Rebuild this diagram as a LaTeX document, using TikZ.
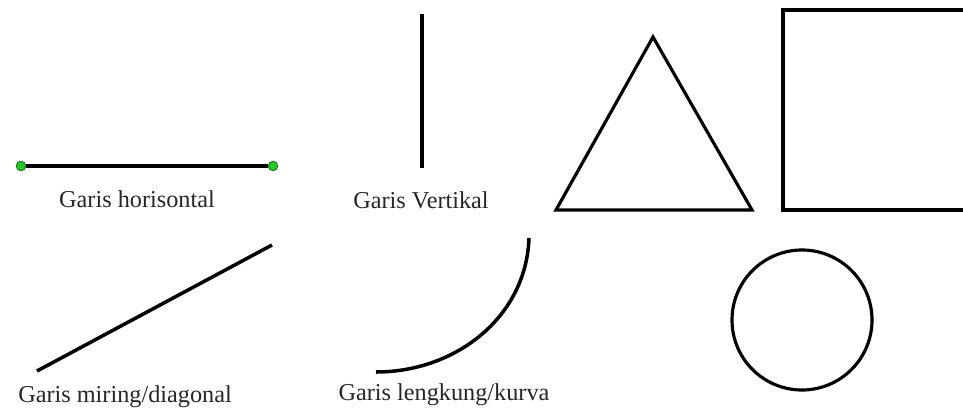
\documentclass[tikz,border=0pt]{standalone}
\usepackage{fontspec}
\setmainfont{Liberation Serif}
\definecolor{hijau}{RGB}{40,200,40}
\definecolor{hijaugelap}{RGB}{20,120,20}
\begin{document}
\begin{tikzpicture}[garis/.style={line width=2pt},
    bangun/.style={line width=1.8pt, line join=miter},
    titik/.style={circle, fill=hijau, draw=hijaugelap, line width=0.5pt, minimum size=0.19cm, inner sep=0pt},
    ket/.style={text=black!85, font=\fontsize{13.8}{16}\selectfont, inner sep=0pt}]
    \useasboundingbox (0,0) rectangle (19.26,8.28);
    \clip (0,0) rectangle (19.26,8.28);

    % Garis horisontal
    \node[titik] (h1) at (0.42,4.96) {};
    \node[titik] (h2) at (5.46,4.96) {};
    \node[ket] (kh) at (2.74,4.3) {Garis horisontal};

    % Garis vertikal
    \coordinate (v1) at (8.44,8.0);
    \coordinate (v2) at (8.44,4.92);
    \node[ket] (kv) at (8.42,4.28) {Garis Vertikal};

    % Garis miring
    \coordinate (m1) at (0.74,0.86);
    \coordinate (m2) at (5.44,3.38);
    \node[ket] (km) at (2.5,0.34) {Garis miring/diagonal};

    % Garis lengkung
    \coordinate (l1) at (7.52,0.84);
    \coordinate (l2) at (10.58,3.52);
    \node[ket] (kl) at (8.88,0.38) {Garis lengkung/kurva};

    % Segitiga, persegi, lingkaran
    \coordinate (s1) at (11.12,4.08);
    \coordinate (s2) at (15.04,4.08);
    \coordinate (s3) at (13.06,7.54);
    \coordinate (p1) at (15.66,4.08);
    \coordinate (p2) at (19.6,8.08);
    \coordinate (o) at (16.04,1.88);

    % Garis-garis
    \draw[garis] (h1) -- (h2);
    \draw[garis] (v1) -- (v2);
    \draw[garis] (m1) -- (m2);
    \draw[garis] (l1) to[out=0, in=-92] (l2);
    \draw[bangun] (s1) -- (s2) -- (s3) -- cycle;
    \draw[bangun] (p1) rectangle (p2);
    \draw[bangun] (o) circle (1.4);
\end{tikzpicture}
\end{document}
